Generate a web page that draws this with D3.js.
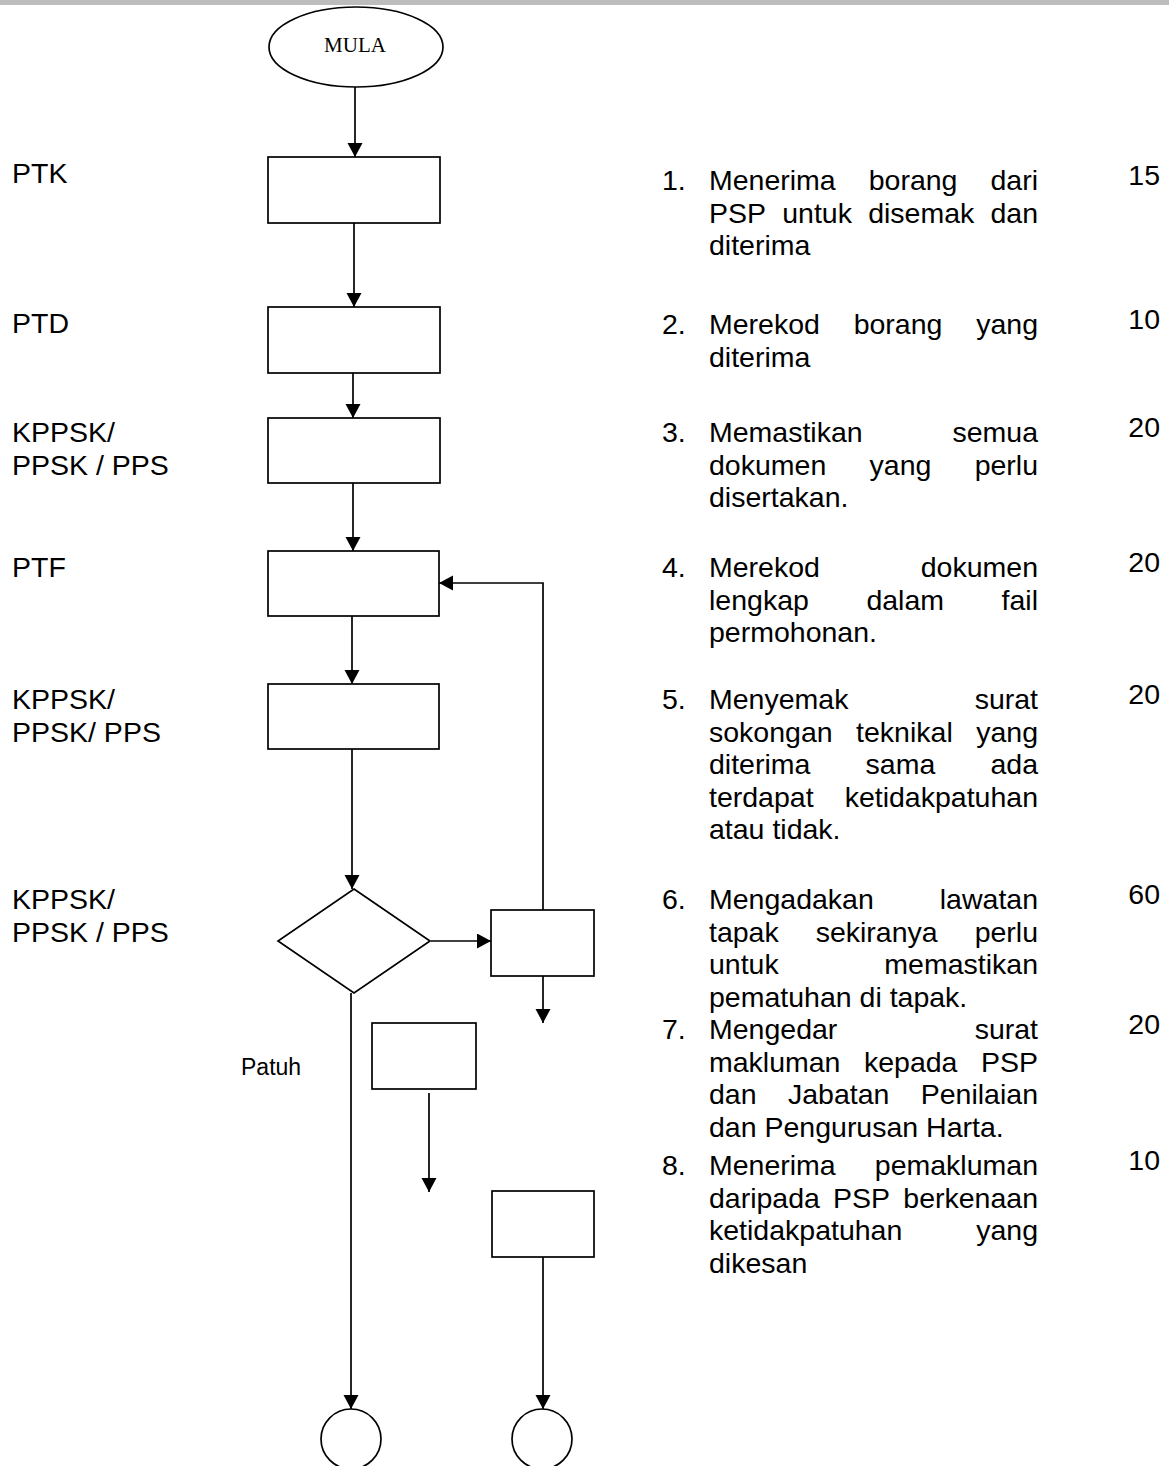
<!DOCTYPE html>
<html>
<head>
<meta charset="utf-8">
<script src="https://cdn.jsdelivr.net/npm/d3@7"></script>
<style>
  body { margin: 0; background: #fff; }
  svg { display: block; }
  .sans { font-family: Arial, "Liberation Sans", sans-serif; fill: #000; }
  .serif { font-family: "Times New Roman", "Liberation Serif", serif; fill: #000; }
  .shape { fill: #fff; stroke: #000; stroke-width: 1.7; }
  .edge { fill: none; stroke: #000; stroke-width: 1.7; }
</style>
</head>
<body>
<div id="chart"></div>
<script>
// Data

var startLabel = "MULA";
var branchLabel = "Patuh";

// who does it (left column)
var roles = [
  ["PTK"],
  ["PTD"],
  ["KPPSK/", "PPSK / PPS"],
  ["PTF"],
  ["KPPSK/", "PPSK/ PPS"],
  ["KPPSK/", "PPSK / PPS"]
];

// step text, one entry per printed line
var steps = [
  ["Menerima borang dari", "PSP untuk disemak dan", "diterima"],
  ["Merekod borang yang", "diterima"],
  ["Memastikan semua", "dokumen yang perlu", "disertakan."],
  ["Merekod dokumen", "lengkap dalam fail", "permohonan."],
  ["Menyemak surat", "sokongan teknikal yang", "diterima sama ada", "terdapat ketidakpatuhan", "atau tidak."],
  ["Mengadakan lawatan", "tapak sekiranya perlu", "untuk memastikan", "pematuhan di tapak."],
  ["Mengedar surat", "makluman kepada PSP", "dan Jabatan Penilaian", "dan Pengurusan Harta."],
  ["Menerima pemakluman", "daripada PSP berkenaan", "ketidakpatuhan yang", "dikesan"]
];

// time per step
var times = [15, 10, 20, 20, 20, 60, 20, 10];

// Layout (positions in px)
var width = 1169;
var height = 1466;
var fontSize = 28.5;
var lineGap = 32.5;

var roleX = 12;
var roleY = [183, 333, 442, 577, 709, 909];

var numX = 662;
var textX = 709;
var textRight = 1038;
var timeRight = 1160;
var stepY = [190, 334, 442, 577, 709, 909, 1039, 1175];

var ellipse = {cx: 356, cy: 47, rx: 87, ry: 40};

var boxes = [
  {x: 268, y: 157, w: 172, h: 66},
  {x: 268, y: 307, w: 172, h: 66},
  {x: 268, y: 418, w: 172, h: 65},
  {x: 268, y: 551, w: 171, h: 65},
  {x: 268, y: 684, w: 171, h: 65},
  {x: 491, y: 910, w: 103, h: 66},
  {x: 372, y: 1023, w: 104, h: 66},
  {x: 492, y: 1191, w: 102, h: 66}
];

var diamond = {cx: 354, cy: 941, hw: 76, hh: 52};

var terminals = [
  {cx: 351, cy: 1439, r: 30},
  {cx: 542, cy: 1439, r: 30}
];

var edges = [
  [[355, 87], [355, 157]],
  [[354, 223], [354, 307]],
  [[353, 373], [353, 418]],
  [[353, 483], [353, 551]],
  [[352, 616], [352, 684]],
  [[352, 749], [352, 889]],
  [[431, 941], [491, 941]],
  [[543, 910], [543, 583], [439, 583]],
  [[543, 976], [543, 1023]],
  [[429, 1093], [429, 1192]],
  [[351, 993], [351, 1409]],
  [[543, 1257], [543, 1409]]
];

// SVG
var svg = d3.select("#chart")
  .append("svg")
  .attr("width", width)
  .attr("height", height);

svg.append("rect")
  .attr("x", 0).attr("y", 0)
  .attr("width", width).attr("height", 5)
  .attr("fill", "#bdbdbd");

svg.append("defs")
  .append("marker")
  .attr("id", "arrow")
  .attr("markerUnits", "userSpaceOnUse")
  .attr("markerWidth", 15)
  .attr("markerHeight", 16)
  .attr("refX", 14)
  .attr("refY", 7.5)
  .attr("orient", "auto")
  .append("path")
  .attr("d", "M0,0L14,7.5L0,15Z")
  .attr("fill", "#000");

// edges
var line = d3.line();
svg.append("g")
  .selectAll("path")
  .data(edges)
  .join("path")
  .attr("class", "edge")
  .attr("d", line)
  .attr("marker-end", "url(#arrow)");

// shapes
svg.append("ellipse")
  .attr("class", "shape")
  .attr("cx", ellipse.cx).attr("cy", ellipse.cy)
  .attr("rx", ellipse.rx).attr("ry", ellipse.ry);

svg.append("text")
  .attr("class", "serif")
  .attr("x", ellipse.cx - 1)
  .attr("y", ellipse.cy + 5)
  .attr("text-anchor", "middle")
  .attr("font-size", 21)
  .text(startLabel);

svg.append("g")
  .selectAll("rect")
  .data(boxes)
  .join("rect")
  .attr("class", "shape")
  .attr("x", d => d.x).attr("y", d => d.y)
  .attr("width", d => d.w).attr("height", d => d.h);

svg.append("path")
  .attr("class", "shape")
  .attr("d", d3.line().curve(d3.curveLinearClosed)([
    [diamond.cx, diamond.cy - diamond.hh],
    [diamond.cx + diamond.hw, diamond.cy],
    [diamond.cx, diamond.cy + diamond.hh],
    [diamond.cx - diamond.hw, diamond.cy]
  ]));

svg.append("g")
  .selectAll("circle")
  .data(terminals)
  .join("circle")
  .attr("class", "shape")
  .attr("cx", d => d.cx).attr("cy", d => d.cy).attr("r", d => d.r);

svg.append("text")
  .attr("class", "sans")
  .attr("x", 241).attr("y", 1075)
  .attr("font-size", 23)
  .text(branchLabel);

// role labels
var roleG = svg.append("g").attr("class", "sans").attr("font-size", fontSize);
roles.forEach(function(r, i) {
  r.forEach(function(txt, j) {
    roleG.append("text")
      .attr("x", roleX)
      .attr("y", roleY[i] + j * lineGap)
      .text(txt);
  });
});

// justified step text
var stepG = svg.append("g").attr("class", "sans").attr("font-size", fontSize);

function writeLine(words, y, justify) {
  var t = stepG.append("text").attr("y", y);
  if (!justify || words.length < 2) {
    t.attr("x", textX).text(words.join(" "));
    return;
  }
  var spans = t.selectAll("tspan").data(words).join("tspan").text(d => d);
  var widths = spans.nodes().map(n => n.getComputedTextLength());
  var gap = (textRight - textX - d3.sum(widths)) / (words.length - 1);
  var pos = textX;
  spans.attr("x", function(d, i) {
    var xi = pos;
    pos += widths[i] + gap;
    return xi;
  });
}

steps.forEach(function(lines, i) {
  stepG.append("text")
    .attr("x", numX)
    .attr("y", stepY[i])
    .text((i + 1) + ".");
  lines.forEach(function(l, j) {
    writeLine(l.split(" "), stepY[i] + j * lineGap, j < lines.length - 1);
  });
});

// times
svg.append("g")
  .attr("class", "sans")
  .attr("font-size", fontSize)
  .selectAll("text")
  .data(times)
  .join("text")
  .attr("x", timeRight)
  .attr("y", (d, i) => stepY[i] - 5)
  .attr("text-anchor", "end")
  .text(d => d);
</script>
</body>
</html>
